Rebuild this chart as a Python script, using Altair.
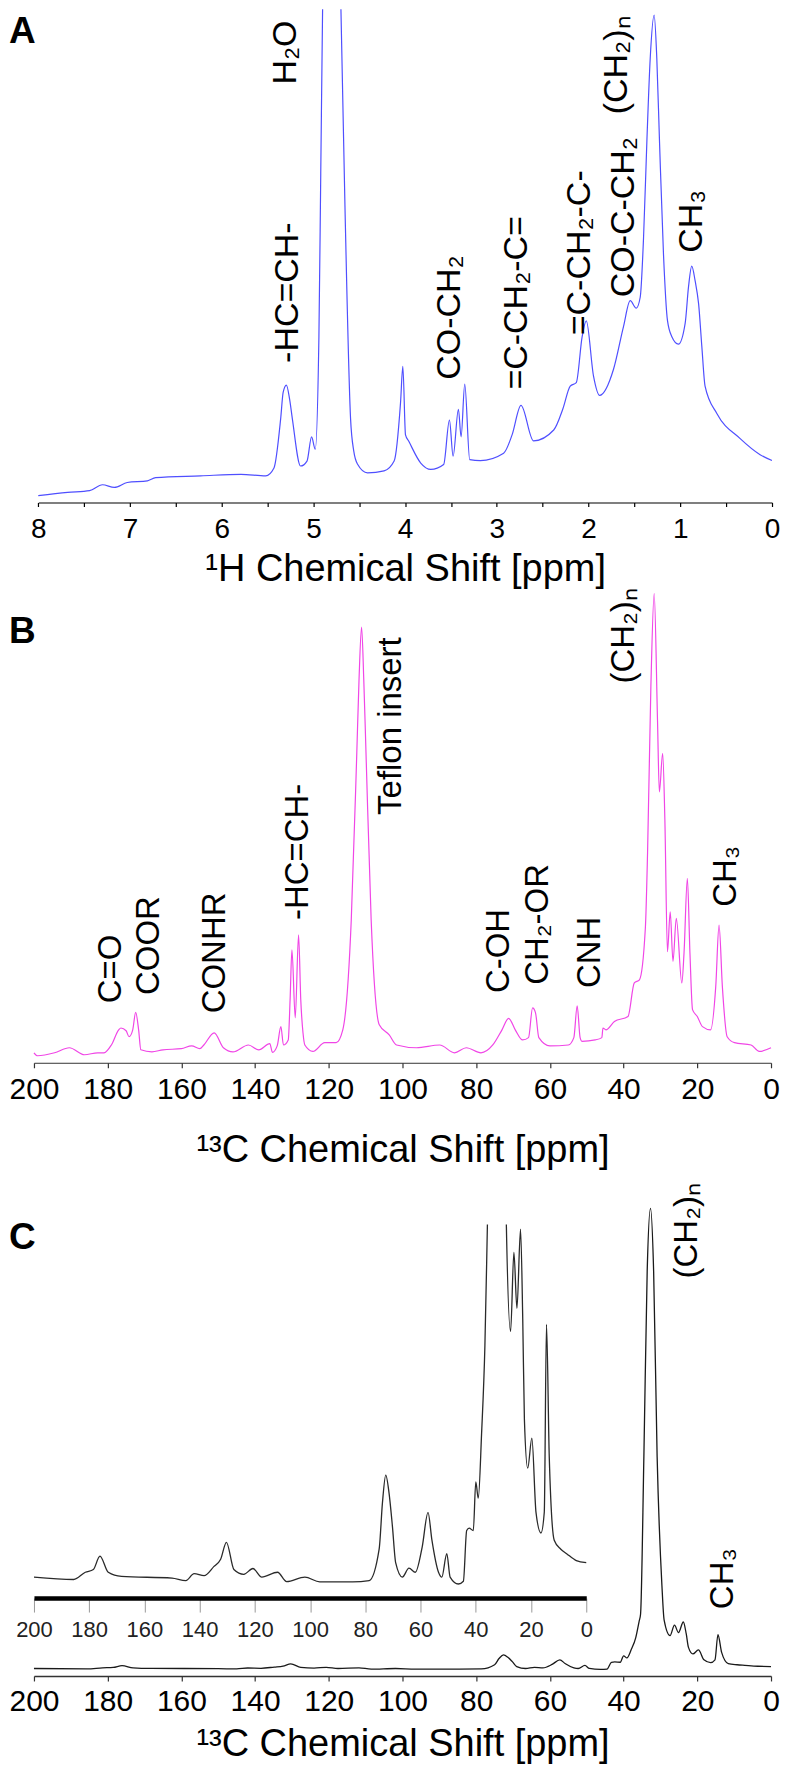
import altair as alt
import pandas as pd

FONT = "Liberation Sans, Arial, Helvetica, sans-serif"

# ---------------- Panel A : 1H spectrum ----------------
A_ppm = [8.00, 7.68, 7.44, 7.30, 7.17, 7.03, 6.81, 6.72, 6.23, 5.79, 5.52, 5.43, 5.357, 5.33, 5.295, 5.26,
         5.23, 5.14, 5.07, 5.02, 4.98, 4.94, 4.92, 4.90, 4.85, 4.80, 4.75, 4.70, 4.656, 4.595, 4.56, 4.52,
         4.41, 4.23, 4.12, 4.05, 4.025, 3.996, 3.96, 3.83, 3.72, 3.58, 3.517, 3.477, 3.419, 3.39, 3.35,
         3.296, 3.18, 2.926, 2.834, 2.737, 2.60, 2.38, 2.28, 2.20, 2.134, 2.07, 2.025, 1.946, 1.88, 1.728,
         1.62, 1.546, 1.48, 1.437, 1.401, 1.364, 1.328, 1.285, 1.256, 1.227, 1.183, 1.14, 1.092, 1.02,
         0.947, 0.911, 0.875, 0.838, 0.80, 0.765, 0.73, 0.60, 0.35, 0.13, 0.00]
A_int = [1.4, 2.05, 2.4, 3.6, 3.05, 4.05, 4.4, 5.05, 5.4, 5.7, 5.4, 7.0, 17.0, 22.3, 23.8, 21.0,
         17.0, 7.4, 8.4, 13.3, 10.8, 33.7, 66.7, 100.0, 160.0, 180.0, 160.0, 100.0, 60.0, 17.0, 10.4, 7.8,
         6.0, 6.4, 8.4, 20.3, 27.6, 13.7, 12.4, 8.0, 6.7, 7.7, 16.7, 9.4, 18.9, 13.3, 24.0,
         8.7, 8.5, 10.0, 13.7, 19.7, 12.5, 14.7, 19.0, 23.6, 24.3, 33.6, 36.8, 25.6, 21.7, 27.0,
         35.6, 40.9, 39.4, 41.6, 53.5, 73.4, 90.0, 98.8, 90.0, 73.4, 50.2, 36.9, 33.6, 32.1,
         36.3, 43.6, 47.9, 44.9, 40.2, 31.6, 23.6, 18.0, 13.0, 9.7, 8.5]
A_lab_text = ["H\u2082O", "-HC=CH-", "CO-CH\u2082", "=C-CH\u2082-C=", "=C-CH\u2082-C-", "CO-C-CH\u2082",
              "(CH\u2082)\u2099", "CH\u2083"]
A_lab_ppm = [5.19, 5.17, 3.40, 2.67, 1.98, 1.51, 1.58, 0.765]
A_lab_int = [84.7, 28.3, 24.9, 22.9, 33.9, 41.6, 78.7, 50.6]
A_ticks = [8, 7.5, 7, 6.5, 6, 5.5, 5, 4.5, 4, 3.5, 3, 2.5, 2, 1.5, 1, 0.5, 0]

# ---------------- Panel B : 13C spectrum ----------------
B_ppm = [200, 199, 194.4, 190.4, 186.3, 182.7, 181, 179, 177, 176.4, 175, 174.2, 173.2, 172.4, 171.6, 171,
         168, 165, 160, 157.2, 155, 153.9, 151.1, 148.6, 146, 141.8, 139, 136, 135.3, 134, 133, 132.3,
         131, 130.5, 130, 129.1, 128.2, 127.6, 127, 126.5, 124.3, 121.1, 118, 116.2, 113.9, 112.4, 111.8,
         111.1, 110.5, 109.9, 108.5, 106.3, 103.6, 101.6, 96.2, 89.9, 85.9, 82.7, 78.7, 75.5, 73, 71.2,
         69.4, 67.4, 65.8, 64.7, 63.9, 63, 60, 55, 53.5, 52.6, 51.8, 51.3, 47.7, 45.9, 45.6, 44.8, 42.5,
         38.8, 37.1, 35.7, 34.1, 33.5, 32.6, 31.7, 30.8, 30.3, 29.4, 28.8, 28.1, 27.35, 26.6, 25.7, 24.2,
         23.6, 22.7, 22.0, 21.3, 20, 18.6, 16.4, 15.0, 14.1, 13.2, 11.9, 9.9, 5.4, 3.2, 0]
B_int = [0, -0.65, 0, 1.1, -0.43, 0, 0, 1.7, 5.0, 5.4, 4.8, 3.5, 5.0, 8.8, 5.0, 0.65,
         0.2, 0.65, 0.9, 1.5, 0.9, 1.7, 4.35, 1.1, 0.2, 1.7, 0.65, 2.0, 0.1, 1.5, 5.7, 1.7,
         2.8, 11.5, 22.4, 7.6, 25.7, 11.5, 4.35, 1.7, 0.3, 2.2, 2.2, 5.0, 28.9, 65.3, 81.1,
         92.7, 81.1, 65.3, 28.9, 6.1, 3.9, 1.7, 1.1, 1.7, 0, 1.1, 0, 1.7, 5.0, 7.5,
         5.0, 2.8, 3.3, 9.8, 8.7, 3.3, 1.5, 1.7, 3.3, 10.2, 3.3, 2.5, 2.8, 3.3, 5.4, 5.0, 6.8,
         7.9, 15.2, 15.9, 27.1, 43.5, 79.7, 100.0, 72.4, 56.8, 65.2, 50.7, 22.0, 30.7, 19.9, 29.3, 15.2,
         21.8, 38.0, 21.8, 9.4, 7.9, 5.7, 5.0, 14.4, 27.8, 14.4, 3.5, 2.2, 1.7, 0.3, 1.1]
B_lab_text = ["C=O", "COOR", "CONHR", "-HC=CH-", "Teflon insert", "C-OH", "CH\u2082-OR", "CNH",
              "(CH\u2082)\u2099", "CH\u2083"]
B_lab_ppm = [176.4, 166.1, 148.1, 125.6, 100.5, 71.2, 60.4, 46.5, 37.1, 9.6]
B_lab_int = [10.8, 12.6, 8.6, 28.9, 51.8, 13.0, 14.8, 14.1, 80.4, 31.8]
C13_ticks = [200, 180, 160, 140, 120, 100, 80, 60, 40, 20, 0]

# ---------------- Panel C : 13C spectrum with inset ----------------
C_ppm = [200, 185.6, 181.4, 178.5, 176.1, 173.1, 168.3, 150, 145, 142, 138.4, 134.8, 132.4, 130.3, 127.6,
         124, 120.7, 117.5, 111.8, 108.5, 101.9, 96.5, 84.6, 78.6, 75, 73.8, 72.6, 71.4, 70.2, 69.0, 66.6,
         64.2, 61.9, 59.4, 57.3, 55.9, 53.5, 52.3, 50.5, 49.3, 46.3, 44.5, 43.3, 42.4, 40.9, 40.0, 39.1,
         37.9, 36.7, 35.8, 35.4, 34.5, 33.6, 32.7, 31.85, 30.9, 29.6, 29.0, 27.4, 26.2, 25.1, 23.8, 23.0,
         22.4, 21.2, 19.7, 18.2, 16.4, 15.2, 14.4, 13.4, 11.6, 9.2, 7.1, 3.6, 0]
C_int = [0, -0.07, 0.14, 0.22, 0.61, 0.14, 0.02, -0.03, -0.1, 0.1, 0.04, 0.31, 0.52, 1.01, 0.22,
         0.08, 0.25, 0, 0.14, -0.13, 0, -0.14, -0.14, -0.1, 0.81, 2.16, 2.96, 2.43, 1.48, 0.41, 0,
         0.26, 0.14, 0.88, 1.88, 1.08, 0.14, 0, 0.68, 0, -0.2, -0.12, 1.35, 1.42, 1.35, 2.76, 2.29,
         4.17, 6.72, 10.2, 11.8, 46.0, 86.3, 100.0, 86.3, 46.0, 18.0, 10.5, 7.13, 9.42, 7.8, 10.1, 7.5,
         4.58, 3.16, 4.03, 1.88, 1.28, 1.88, 7.33, 3.5, 1.07, 0.81, 0.68, 0.48, 0.42]
C_lab_text = ["(CH\u2082)\u2099", "CH\u2083"]
C_lab_ppm = [20.2, 10.3]
C_lab_int = [84.8, 12.9]

dfA = pd.DataFrame({"ppm": A_ppm, "I": A_int})
dfAl = pd.DataFrame({"ppm": A_lab_ppm, "I": A_lab_int, "t": A_lab_text})
dfB = pd.DataFrame({"ppm": B_ppm, "I": B_int})
dfBl = pd.DataFrame({"ppm": B_lab_ppm, "I": B_lab_int, "t": B_lab_text})
dfC = pd.DataFrame({"ppm": C_ppm, "I": C_int})
dfCl = pd.DataFrame({"ppm": C_lab_ppm, "I": C_lab_int, "t": C_lab_text})


def x_axis(values, title, size, pad, tick, title_y, dcolor, dwidth, expr=None):
    kw = dict(values=values, orient="bottom", tickSize=tick, tickWidth=1.2, tickColor=dcolor,
              domainColor=dcolor, domainWidth=dwidth, labelFont=FONT, labelFontSize=size,
              labelColor="black", labelBaseline="alphabetic", labelPadding=pad, labelFlush=False,
              labelOverlap=False, title=title, titleFont=FONT, titleFontSize=38,
              titleFontWeight="normal", titleColor="black", titleBaseline="alphabetic",
              titleY=title_y, grid=False)
    if expr:
        kw["labelExpr"] = expr
    return alt.Axis(**kw)


def line(df, xs, ys, axis, color, width, clip):
    return alt.Chart(df).mark_line(color=color, strokeWidth=width, interpolate="monotone", clip=clip).encode(
        x=alt.X("ppm:Q", scale=xs, axis=axis),
        y=alt.Y("I:Q", scale=ys, axis=None),
        order=alt.Order("ppm:Q", sort="descending"),
    )


def labels(df, xs, ys, axis, size):
    return alt.Chart(df).mark_text(angle=270, align="left", baseline="alphabetic", font=FONT,
                                   fontSize=size, color="black").encode(
        x=alt.X("ppm:Q", scale=xs, axis=axis),
        y=alt.Y("I:Q", scale=ys, axis=None),
        text="t:N",
    )


def letter(ch, y):
    return alt.Chart(pd.DataFrame({"t": [ch]})).mark_text(
        align="left", baseline="alphabetic", font=FONT, fontSize=37, fontWeight="bold", color="black"
    ).encode(x=alt.value(-25), y=alt.value(y), text="t:N")


# Panel A
sxA = alt.Scale(domain=[8, 0], range=[4.3, 739], nice=False, zero=False)
syA = alt.Scale(domain=[0, 100], nice=False, zero=False)
axA = x_axis(A_ticks, "\u00b9H Chemical Shift [ppm]", 28, 30.7, 4, 78, "black", 1.2,
             expr="datum.value % 1 === 0 ? format(datum.value, 'd') : ''")
chartA = alt.layer(
    line(dfA, sxA, syA, axA, "#4f4fff", 1.2, True),
    labels(dfAl, sxA, syA, axA, 34),
    letter("A", 34),
).properties(width=739, height=494)

# Panel B
sxB = alt.Scale(domain=[200, 0], nice=False, zero=False)
syB = alt.Scale(domain=[-2.175, 84.6], nice=False, zero=False)
axB = x_axis(C13_ticks, "\u00b9\u00b3C Chemical Shift [ppm]", 30, 30.3, 5, 98.7, "#333333", 1.0)
chartB = alt.layer(
    line(dfB, sxB, syB, axB, "#f046e6", 1.2, False),
    labels(dfBl, sxB, syB, axB, 33),
    letter("B", -21),
).properties(width=738, height=399)

# Panel C
sxC = alt.Scale(domain=[200, 0], nice=False, zero=False)
syC = alt.Scale(domain=[-1.63, 96.5], nice=False, zero=False)
sxI = alt.Scale(domain=[200, 0], range=[0, 553], nice=False, zero=False)
syI = alt.Scale(domain=[-0.609, 10.23], range=[374, 0], nice=False, zero=False)
axC = x_axis(C13_ticks, "\u00b9\u00b3C Chemical Shift [ppm]", 30, 29.7, 5, 80, "#333333", 1.5)
axI = alt.Axis(values=C13_ticks, orient="bottom", offset=-78, tickSize=14, tickWidth=1,
               tickColor="#999999", domainColor="black", domainWidth=4.5, labelFont=FONT,
               labelFontSize=22, labelColor="#222222", labelBaseline="alphabetic", labelPadding=24.3,
               labelFlush=False, labelOverlap=False, title=None, grid=False)
chartC = alt.layer(
    line(dfC, sxC, syC, axC, "#1a1a1a", 1.3, False),
    line(dfC, sxI, syI, axI, "#2a2a2a", 1.3, True),
    labels(dfCl, sxC, syC, None, 33),
    letter("C", 24),
).resolve_scale(x="independent", y="independent").resolve_axis(x="independent").properties(
    width=738, height=452)

chart = alt.vconcat(chartA, chartB, chartC, spacing=162, bounds="flush").properties(
    padding={"left": 0, "top": 0, "right": 0, "bottom": 0}
).configure_view(strokeWidth=0)

chart.save("out.html", embed_options={"renderer": "svg", "actions": False})
